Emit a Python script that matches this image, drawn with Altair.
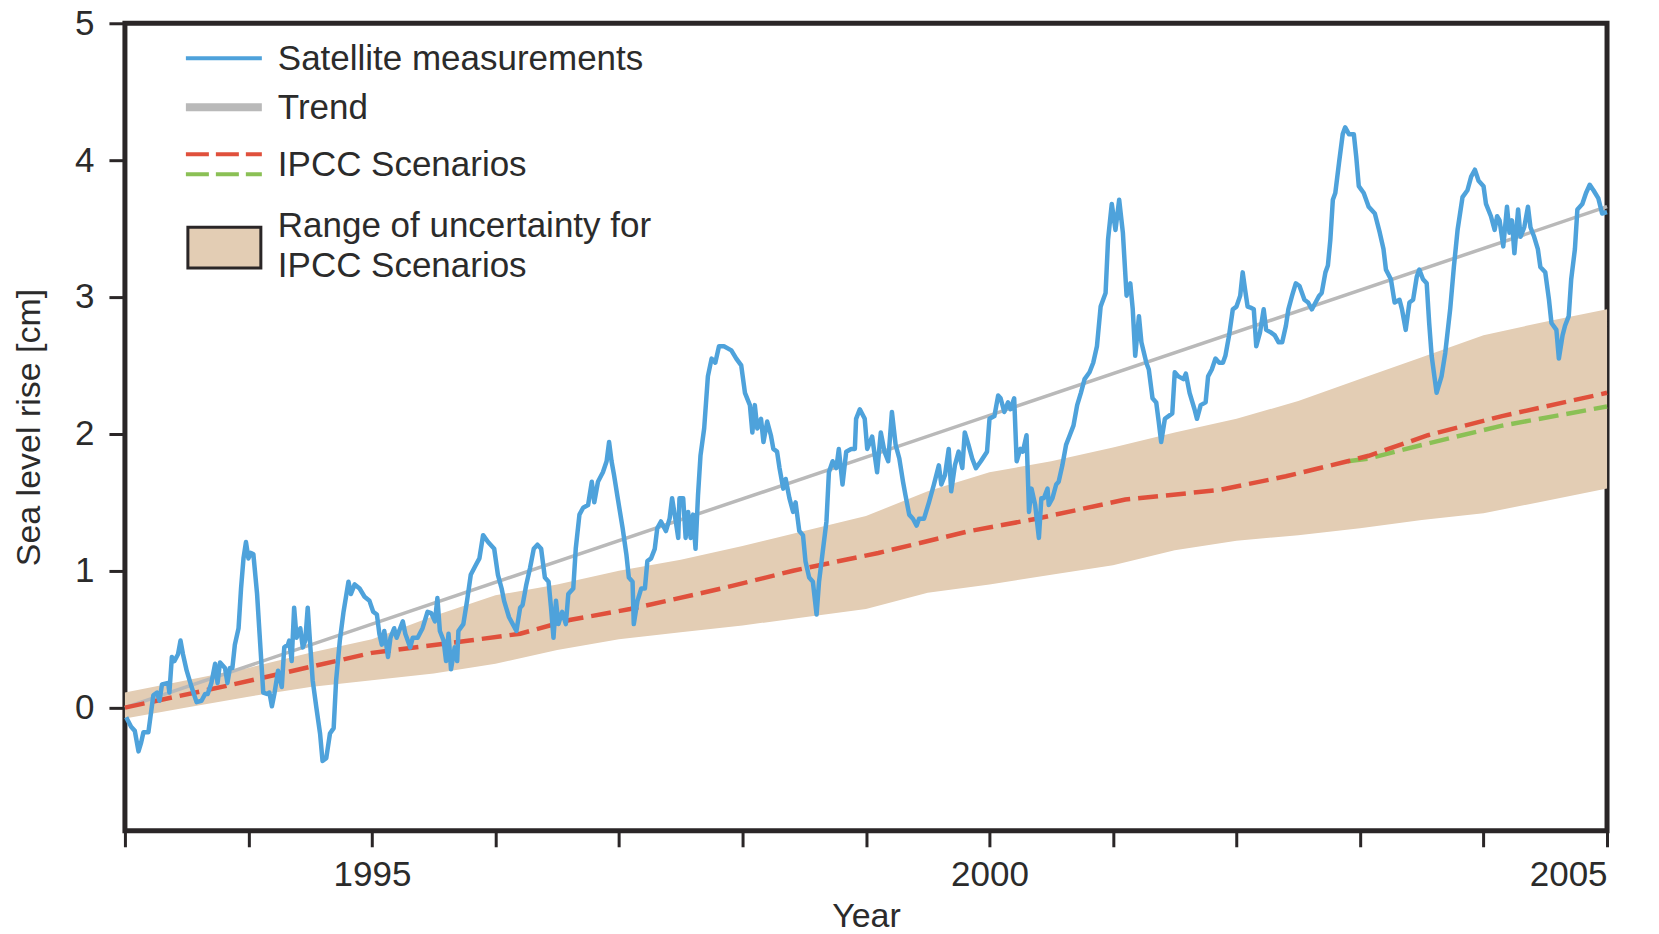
import altair as alt
import pandas as pd

# ---------------- data ----------------
sat_year = [
    1993.01, 1993.05, 1993.08, 1993.11, 1993.13, 1993.15, 1993.19, 1993.23, 1993.26, 1993.28,
    1993.30, 1993.35, 1993.36, 1993.38, 1993.40, 1993.43, 1993.45, 1993.47, 1993.50, 1993.54,
    1993.58, 1993.62, 1993.65, 1993.67, 1993.70, 1993.73, 1993.75, 1993.77, 1993.81, 1993.83,
    1993.85, 1993.87, 1993.89, 1993.92, 1993.94, 1993.96, 1993.98, 1994.00, 1994.02, 1994.04,
    1994.07, 1994.09, 1994.12, 1994.15, 1994.17, 1994.19, 1994.21, 1994.24, 1994.27, 1994.29,
    1994.32, 1994.33, 1994.35, 1994.37, 1994.39, 1994.42, 1994.44, 1994.46, 1994.48, 1994.50,
    1994.52, 1994.55, 1994.58, 1994.60, 1994.63, 1994.64, 1994.66, 1994.69, 1994.71, 1994.74,
    1994.77, 1994.81, 1994.83, 1994.86, 1994.90, 1994.94, 1994.98,
    1995.01, 1995.04, 1995.06, 1995.08, 1995.10, 1995.13, 1995.15, 1995.18, 1995.20, 1995.22,
    1995.25, 1995.27, 1995.31, 1995.33, 1995.37, 1995.41, 1995.45, 1995.48, 1995.51, 1995.53,
    1995.55, 1995.58, 1995.60, 1995.62, 1995.64, 1995.67, 1995.69, 1995.70, 1995.74, 1995.77,
    1995.80, 1995.84, 1995.87, 1995.90, 1995.94, 1995.99, 1996.02, 1996.05, 1996.07, 1996.11,
    1996.14, 1996.17, 1996.20, 1996.22, 1996.25, 1996.28, 1996.31, 1996.34, 1996.37, 1996.40,
    1996.43, 1996.45, 1996.47, 1996.49, 1996.51, 1996.54, 1996.57, 1996.59, 1996.63, 1996.65,
    1996.68, 1996.71, 1996.75, 1996.78, 1996.80, 1996.83, 1996.87, 1996.90, 1996.92, 1996.94,
    1996.96, 1996.99,
    1997.03, 1997.06, 1997.08, 1997.11, 1997.12, 1997.15, 1997.18, 1997.21, 1997.23, 1997.26,
    1997.29, 1997.31, 1997.34, 1997.38, 1997.41, 1997.43, 1997.46, 1997.48, 1997.49, 1997.52,
    1997.54, 1997.56, 1997.58, 1997.60, 1997.62, 1997.64, 1997.66, 1997.69, 1997.72, 1997.75,
    1997.78, 1997.81, 1997.85, 1997.91, 1997.95, 1997.99, 1998.02, 1998.06, 1998.08, 1998.10,
    1998.12, 1998.15, 1998.17, 1998.20, 1998.23, 1998.25, 1998.28, 1998.30, 1998.33, 1998.35,
    1998.38, 1998.41, 1998.43, 1998.46, 1998.49, 1998.51, 1998.54, 1998.57, 1998.60, 1998.62,
    1998.65, 1998.68, 1998.70, 1998.73, 1998.76, 1998.78, 1998.81, 1998.84, 1998.88, 1998.91,
    1998.92, 1998.95, 1998.99, 1999.01,
    1999.05, 1999.09, 1999.12, 1999.15, 1999.18, 1999.21, 1999.24, 1999.27, 1999.30, 1999.32,
    1999.35, 1999.38, 1999.41, 1999.43, 1999.47, 1999.51, 1999.55, 1999.59, 1999.61, 1999.64,
    1999.67, 1999.69, 1999.72, 1999.75, 1999.78, 1999.80, 1999.83, 1999.86, 1999.89, 1999.93,
    1999.98, 2000.00, 2000.04, 2000.07, 2000.09, 2000.12, 2000.15, 2000.17, 2000.20, 2000.22,
    2000.25, 2000.27, 2000.30, 2000.32, 2000.34, 2000.37, 2000.40, 2000.42, 2000.44, 2000.47,
    2000.48, 2000.51, 2000.54, 2000.56, 2000.59, 2000.62, 2000.65, 2000.68, 2000.71, 2000.74,
    2000.77, 2000.81, 2000.84, 2000.87, 2000.90, 2000.94, 2000.96, 2000.99, 2001.02, 2001.05,
    2001.08, 2001.11, 2001.14, 2001.16, 2001.18, 2001.21, 2001.23, 2001.27, 2001.29, 2001.32,
    2001.35, 2001.37, 2001.39, 2001.42, 2001.45, 2001.48, 2001.50, 2001.53, 2001.57, 2001.59,
    2001.62, 2001.66, 2001.68, 2001.71, 2001.75, 2001.77, 2001.80, 2001.83, 2001.86, 2001.89,
    2001.91, 2001.94, 2001.97, 2002.00, 2002.03, 2002.05, 2002.07, 2002.09, 2002.12, 2002.14,
    2002.16, 2002.19, 2002.22, 2002.24, 2002.28, 2002.31, 2002.34, 2002.37, 2002.40, 2002.42,
    2002.45, 2002.48, 2002.51, 2002.55, 2002.58, 2002.61, 2002.64, 2002.67, 2002.69, 2002.72,
    2002.74, 2002.76, 2002.78, 2002.80, 2002.83, 2002.86, 2002.88, 2002.91, 2002.95, 2002.97,
    2002.99, 2003.03,
    2003.07, 2003.12, 2003.16, 2003.19, 2003.21, 2003.25, 2003.28, 2003.32, 2003.34, 2003.37,
    2003.40, 2003.43, 2003.46, 2003.48, 2003.51, 2003.54, 2003.56, 2003.58, 2003.62, 2003.66,
    2003.69, 2003.73, 2003.76, 2003.79, 2003.83, 2003.87, 2003.90, 2003.93, 2003.96, 2004.00,
    2004.02, 2004.06, 2004.09, 2004.11, 2004.13, 2004.16, 2004.19, 2004.21, 2004.23, 2004.25,
    2004.28, 2004.30, 2004.33, 2004.36, 2004.38, 2004.41, 2004.44, 2004.46, 2004.50, 2004.53,
    2004.55, 2004.59, 2004.61, 2004.64, 2004.66, 2004.69, 2004.71, 2004.74, 2004.76, 2004.80,
    2004.83, 2004.86, 2004.89, 2004.93, 2004.96, 2005.00,
]
sat_value = [
    -0.07, -0.14, -0.17, -0.32, -0.26, -0.18, -0.18, 0.09, 0.11, 0.05,
    0.17, 0.18, 0.11, 0.37, 0.34, 0.39, 0.49, 0.39, 0.27, 0.15,
    0.04, 0.05, 0.10, 0.10, 0.18, 0.32, 0.18, 0.33, 0.29, 0.18,
    0.29, 0.29, 0.46, 0.58, 0.87, 1.09, 1.21, 1.09, 1.13, 1.12,
    0.83, 0.54, 0.11, 0.10, 0.11, 0.01, 0.10, 0.27, 0.15, 0.44,
    0.46, 0.49, 0.34, 0.73, 0.51, 0.58, 0.44, 0.49, 0.73, 0.46,
    0.20, 0.00, -0.19, -0.39, -0.37, -0.31, -0.19, -0.15, 0.20, 0.49,
    0.70, 0.92, 0.83, 0.90, 0.87, 0.81, 0.78,
    0.70, 0.68, 0.54, 0.46, 0.56, 0.37, 0.51, 0.58, 0.51, 0.56,
    0.63, 0.54, 0.44, 0.51, 0.51, 0.58, 0.70, 0.69, 0.63, 0.80,
    0.56, 0.49, 0.34, 0.54, 0.28, 0.44, 0.34, 0.56, 0.61, 0.78,
    0.97, 1.04, 1.09, 1.26, 1.21, 1.16, 0.97, 0.87, 0.78, 0.66,
    0.61, 0.56, 0.73, 0.75, 0.90, 1.02, 1.16, 1.19, 1.16, 0.95,
    0.92, 0.73, 0.51, 0.78, 0.61, 0.70, 0.61, 0.83, 0.87, 1.16,
    1.41, 1.46, 1.48, 1.65, 1.50, 1.65, 1.72, 1.80, 1.94, 1.80,
    1.70, 1.53,
    1.31, 1.12, 0.95, 0.92, 0.61, 0.78, 0.87, 0.87, 1.07, 1.09,
    1.16, 1.31, 1.36, 1.29, 1.38, 1.53, 1.36, 1.24, 1.53, 1.53,
    1.24, 1.43, 1.24, 1.41, 1.16, 1.55, 1.84, 2.04, 2.42, 2.55,
    2.52, 2.64, 2.64, 2.61, 2.55, 2.50, 2.30, 2.21, 2.01, 2.21,
    2.04, 2.11, 1.94, 2.09, 1.99, 1.89, 1.87, 1.75, 1.60, 1.67,
    1.53, 1.43, 1.50, 1.29, 1.26, 1.07, 0.95, 0.92, 0.68, 0.92,
    1.14, 1.36, 1.72, 1.80, 1.75, 1.89, 1.63, 1.87, 1.89, 1.89,
    2.11, 2.18, 2.11, 1.89,
    1.98, 1.72, 2.01, 1.87, 1.80, 2.16, 1.92, 1.82, 1.65, 1.55,
    1.41, 1.38, 1.33, 1.38, 1.38, 1.50, 1.63, 1.77, 1.63, 1.70,
    1.89, 1.58, 1.77, 1.87, 1.75, 2.01, 1.92, 1.82, 1.75, 1.80,
    1.87, 2.11, 2.13, 2.28, 2.26, 2.16, 2.23, 2.18, 2.26, 1.80,
    1.89, 1.87, 1.99, 1.43, 1.60, 1.48, 1.24, 1.53, 1.53, 1.60,
    1.48, 1.53, 1.63, 1.65, 1.77, 1.92, 1.99, 2.06, 2.21, 2.30,
    2.40, 2.45, 2.52, 2.64, 2.93, 3.03, 3.42, 3.68, 3.49, 3.71,
    3.47, 3.01, 3.10, 2.91, 2.57, 2.86, 2.67, 2.52, 2.47, 2.26,
    2.23, 2.09, 1.94, 2.11, 2.13, 2.15, 2.45, 2.42, 2.40, 2.44,
    2.30, 2.18, 2.11, 2.21, 2.23, 2.42, 2.47, 2.55, 2.52, 2.52,
    2.57, 2.72, 2.91, 2.93, 3.01, 3.18, 3.05, 2.93, 2.92, 2.91,
    2.64, 2.74, 2.91, 2.76, 2.74, 2.72, 2.67, 2.67, 2.79, 2.91,
    3.01, 3.10, 3.08, 2.98, 2.96, 2.91, 2.96, 3.01, 3.03, 3.18,
    3.23, 3.42, 3.71, 3.76, 3.98, 4.19, 4.24, 4.19, 4.19, 4.02,
    3.81, 3.76,
    3.66, 3.61, 3.47, 3.35, 3.20, 3.13, 2.96, 2.98, 2.91, 2.76,
    2.96, 2.98, 3.15, 3.20, 3.13, 3.10, 2.81, 2.57, 2.30, 2.42,
    2.59, 2.91, 3.22, 3.49, 3.73, 3.78, 3.88, 3.93, 3.85, 3.81,
    3.68, 3.59, 3.49, 3.59, 3.56, 3.37, 3.66, 3.47, 3.56, 3.32,
    3.64, 3.44, 3.51, 3.66, 3.51, 3.44, 3.35, 3.22, 3.18, 2.98,
    2.81, 2.76, 2.55, 2.72, 2.79, 2.86, 3.13, 3.35, 3.64, 3.68,
    3.76, 3.82, 3.78, 3.72, 3.61, 3.62,
]

trend_year = [1993.0, 2005.0]
trend_value = [0.0, 3.66]

ipcc_red_year = [1993.0, 1993.88, 1995.0, 1995.79, 1996.2, 1996.6, 1997.09, 1997.83, 1998.41,
                 1999.1, 1999.84, 2000.38, 2001.1, 2001.86, 2002.4, 2002.9, 2003.07, 2003.55,
                 2004.15, 2005.0]
ipcc_red_value = [0.0, 0.17, 0.40, 0.49, 0.54, 0.64, 0.72, 0.87, 1.00,
                  1.13, 1.29, 1.38, 1.52, 1.59, 1.69, 1.80, 1.84, 1.99,
                  2.13, 2.30]

ipcc_green_year = [2002.9, 2003.07, 2003.55, 2004.15, 2005.0]
ipcc_green_value = [1.80, 1.82, 1.93, 2.06, 2.20]

band_year = [1993.0, 1993.5, 1994.0, 1994.5, 1995.0, 1995.5, 1996.0, 1996.5, 1997.0, 1997.5,
             1998.0, 1998.5, 1999.0, 1999.5, 2000.0, 2000.5, 2001.0, 2001.5, 2002.0, 2002.5,
             2003.0, 2003.5, 2004.0, 2004.5, 2005.0]
band_low = [-0.08, 0.00, 0.08, 0.15, 0.20, 0.25, 0.32, 0.42, 0.50, 0.55,
            0.60, 0.66, 0.72, 0.84, 0.90, 0.97, 1.04, 1.15, 1.22, 1.26,
            1.31, 1.37, 1.42, 1.51, 1.60]
band_high = [0.11, 0.20, 0.29, 0.40, 0.50, 0.67, 0.82, 0.90, 1.00, 1.08,
             1.18, 1.29, 1.40, 1.58, 1.72, 1.80, 1.90, 2.01, 2.11, 2.24,
             2.40, 2.56, 2.72, 2.82, 2.91]

x_ticks = list(range(1993, 2006))
y_ticks = [0, 1, 2, 3, 4, 5]

# ---------------- styling ----------------
FONT = "Liberation Sans"
TXT = "#2b2b2b"
DARK = "#2a2627"
BLUE = "#4ea2db"
GREY = "#b9b9b9"
RED = "#e0503c"
GREEN = "#8bc055"
TAN = "#e3cdb4"
W, H = 1483, 808
FS = 35

xs = alt.Scale(domain=[1993, 2005], nice=False, zero=False)
ys = alt.Scale(domain=[-0.9, 5], nice=False, zero=False)

x_axis = alt.Axis(
    values=x_ticks,
    labelExpr="datum.value % 5 == 0 ? format(datum.value, 'd') : ''",
    title="Year", titleX=W / 2, titleY=86, titleBaseline="middle",
    grid=False, domain=False, tickSize=16, tickWidth=3, tickColor=DARK,
    labelPadding=11, labelFontSize=FS, labelFont=FONT, labelColor=TXT,
    titleFont=FONT, titleFontSize=34, titleFontWeight="normal", titleColor=TXT,
)
y_axis = alt.Axis(
    values=y_ticks, format="d",
    title="Sea level rise [cm]", titleX=-95, titleY=H / 2, titleBaseline="middle",
    grid=False, domain=False, tickSize=16, tickWidth=3, tickColor=DARK,
    labelPadding=15, labelFontSize=FS, labelFont=FONT, labelColor=TXT,
    titleFont=FONT, titleFontSize=34, titleFontWeight="normal", titleColor=TXT,
)

sat_df = pd.DataFrame({"year": sat_year, "value": sat_value})
trend_df = pd.DataFrame({"year": trend_year, "value": trend_value})
red_df = pd.DataFrame({"year": ipcc_red_year, "value": ipcc_red_value})
green_df = pd.DataFrame({"year": ipcc_green_year, "value": ipcc_green_value})
band_df = pd.DataFrame({"year": band_year, "low": band_low, "high": band_high})

band = alt.Chart(band_df).mark_area(color=TAN, opacity=1).encode(
    x=alt.X("year:Q", scale=xs, axis=x_axis),
    y=alt.Y("low:Q", scale=ys, axis=y_axis),
    y2="high:Q",
)
trend = alt.Chart(trend_df).mark_line(color=GREY, strokeWidth=3.5).encode(
    x=alt.X("year:Q", scale=xs), y=alt.Y("value:Q", scale=ys))
green = alt.Chart(green_df).mark_line(color=GREEN, strokeWidth=4.5, strokeDash=[20, 8]).encode(
    x=alt.X("year:Q", scale=xs), y=alt.Y("value:Q", scale=ys))
red = alt.Chart(red_df).mark_line(color=RED, strokeWidth=4.5, strokeDash=[20, 8]).encode(
    x=alt.X("year:Q", scale=xs), y=alt.Y("value:Q", scale=ys))
sat = alt.Chart(sat_df).mark_line(color=BLUE, strokeWidth=4.5, strokeJoin="round").encode(
    x=alt.X("year:Q", scale=xs), y=alt.Y("value:Q", scale=ys))

# ---------------- legend (drawn inside the plot area) ----------------
leg_base = alt.Chart(pd.DataFrame({"k": [0]}))
leg_blue = leg_base.mark_rule(color=BLUE, strokeWidth=4).encode(
    x=alt.value(61), x2=alt.value(137), y=alt.value(35))
leg_grey = leg_base.mark_rule(color=GREY, strokeWidth=8).encode(
    x=alt.value(61), x2=alt.value(137), y=alt.value(84))
leg_red = leg_base.mark_rule(color=RED, strokeWidth=4, strokeDash=[23, 7]).encode(
    x=alt.value(61), x2=alt.value(137), y=alt.value(131))
leg_green = leg_base.mark_rule(color=GREEN, strokeWidth=4, strokeDash=[23, 7]).encode(
    x=alt.value(61), x2=alt.value(137), y=alt.value(151))
leg_box = leg_base.mark_rect(fill=TAN, stroke=DARK, strokeWidth=3).encode(
    x=alt.value(63), x2=alt.value(136), y=alt.value(204), y2=alt.value(245))

leg_labels = ["Satellite measurements", "Trend", "IPCC Scenarios",
              "Range of uncertainty for", "IPCC Scenarios"]
leg_label_y = [36, 85, 142, 203, 243]
leg_texts = [
    leg_base.mark_text(align="left", baseline="middle", font=FONT, fontSize=FS, color=TXT).encode(
        x=alt.value(153), y=alt.value(yy), text=alt.value(t))
    for t, yy in zip(leg_labels, leg_label_y)
]

chart = alt.layer(
    band, trend, green, red, sat,
    leg_blue, leg_grey, leg_red, leg_green, leg_box, *leg_texts,
).properties(
    width=W, height=H,
    autosize=alt.AutoSizeParams(type="none"),
    padding={"left": 117, "top": 15, "right": 44, "bottom": 103},
).configure_view(
    stroke=DARK, strokeWidth=5,
)

chart.save("out.html", embed_options={"renderer": "svg", "actions": False})
